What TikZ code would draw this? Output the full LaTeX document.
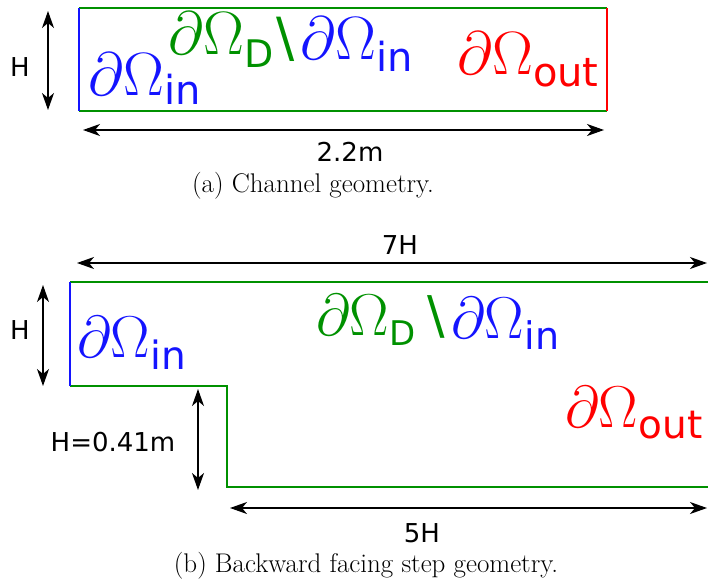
\documentclass[tikz,border=0pt]{standalone}
\usepackage{fontspec}
\usepackage{graphicx}
\newfontfamily\dejavu{DejaVu Sans}
\usetikzlibrary{arrows.meta}
\definecolor{wallgreen}{RGB}{0,145,0}
\definecolor{inblue}{RGB}{20,20,255}
\definecolor{outred}{RGB}{255,0,0}
\tikzset{
  wall/.style={draw=wallgreen,line width=1.5pt},
  inwall/.style={draw=inblue,line width=1.5pt},
  outwall/.style={draw=outred,line width=1.5pt},
  dimline/.style={{Stealth[length=17pt,width=12pt,inset=5pt]}-{Stealth[length=17pt,width=12pt,inset=5pt]},line width=1.3pt},
  dimlabel/.style={font=\fontsize{26}{28}\dejavu,inner sep=0pt},
  bclabel/.style={anchor=base west,inner sep=0pt},
  caption/.style={font=\fontsize{27}{30}\selectfont,anchor=base,inner sep=0pt}
}
% boundary symbol: scale, subscript drop, subscript size, subscript text
\newcommand{\bdry}[4]{\scalebox{#1}{\fontsize{20}{24}\selectfont$\partial\Omega$}\raisebox{#2}{\fontsize{#3}{#3}\dejavu #4}}
\newcommand{\bcminus}[1]{{\fontsize{#1}{#1}\dejavu\textbackslash}}
\begin{document}
\begin{tikzpicture}[x=1pt,y=-1pt]
\useasboundingbox (0,0) rectangle (708,580);
% (a) channel
\coordinate (a-nw) at (79,8);
\coordinate (a-ne) at (607,8);
\coordinate (a-sw) at (79,111);
\coordinate (a-se) at (607,111);
\draw[wall] (a-nw)--(a-ne);
\draw[wall] (a-sw)--(a-se);
\draw[inwall] (a-nw)--(a-sw);
\draw[outwall] (a-ne)--(a-se);
\coordinate (ha-t) at (48,11);
\coordinate (ha-b) at (48,110);
\draw[dimline] (ha-t)--(ha-b);
\node[dimlabel] (ha-lab) at (20,67) {H};
\coordinate (la-l) at (83,130);
\coordinate (la-r) at (604,130);
\draw[dimline] (la-l)--(la-r);
\node[dimlabel] (la-lab) at (350,152) {2.2m};
\node[bclabel,text=inblue] (a-in) at (88,96) {\bdry{2.95}{-9pt}{40}{in}};
\node[bclabel,text=wallgreen] (a-d) at (168,55) {\bdry{2.95}{-13pt}{38}{D}};
\node[text=wallgreen,inner sep=0pt] (a-minus) at (286,39) {\bcminus{54}};
\node[bclabel,text=inblue] (a-din) at (300,60) {\bdry{2.95}{-12pt}{40}{in}};
\node[bclabel,text=outred] (a-out) at (457,75) {\bdry{2.95}{-12pt}{40}{out}};
\node[caption] (cap-a) at (313,192) {(a) Channel geometry.};
% (b) backward facing step
\coordinate (b-nw) at (70,282);
\coordinate (b-ne) at (708,282);
\coordinate (b-sw) at (70,386);
\coordinate (b-st) at (227,386);
\coordinate (b-sb) at (227,487);
\coordinate (b-se) at (708,487);
\draw[wall] (b-nw)--(b-ne);
\draw[wall] (b-sw)--(b-st)--(b-sb)--(b-se);
\draw[inwall] (b-nw)--(b-sw);
\coordinate (l7-l) at (77,263);
\coordinate (l7-r) at (707,263);
\draw[dimline] (l7-l)--(l7-r);
\node[dimlabel] (l7-lab) at (400,245) {7H};
\coordinate (hb-t) at (43,285);
\coordinate (hb-b) at (43,386);
\draw[dimline] (hb-t)--(hb-b);
\node[dimlabel] (hb-lab) at (20,330) {H};
\coordinate (hs-t) at (198,389);
\coordinate (hs-b) at (198,490);
\draw[dimline] (hs-t)--(hs-b);
\node[dimlabel] (hs-lab) at (113,442) {H=0.41m};
\coordinate (l5-l) at (230,508);
\coordinate (l5-r) at (707,508);
\draw[dimline] (l5-l)--(l5-r);
\node[dimlabel] (l5-lab) at (422,533) {5H};
\node[bclabel,text=inblue] (b-in) at (77,357) {\bdry{2.85}{-12pt}{39}{in}};
\node[bclabel,text=wallgreen] (b-d) at (316,335) {\bdry{2.85}{-10pt}{34}{D}};
\node[text=wallgreen,inner sep=0pt] (b-minus) at (436,317) {\bcminus{52}};
\node[bclabel,text=inblue] (b-din) at (451,338) {\bdry{2.85}{-11pt}{38}{in}};
\node[bclabel,text=outred] (b-out) at (565,427) {\bdry{2.85}{-11pt}{39}{out}};
\node[caption] (cap-b) at (366,572) {(b) Backward facing step geometry.};
\end{tikzpicture}
\end{document}
